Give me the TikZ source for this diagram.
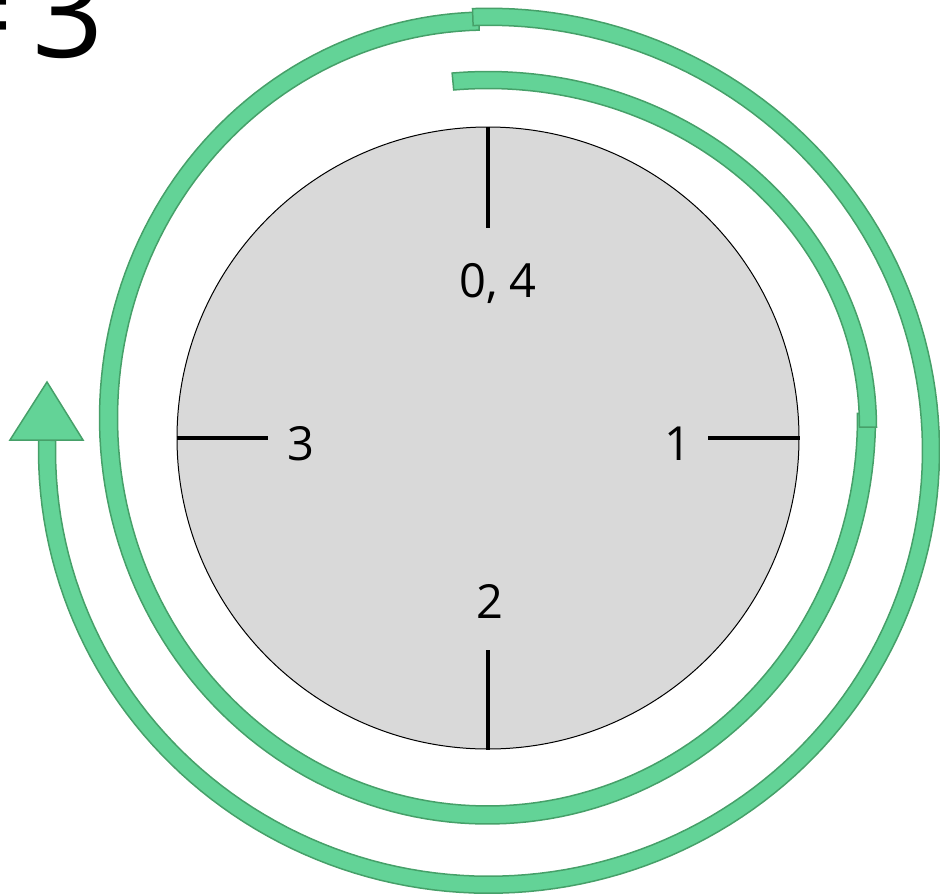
\documentclass[tikz,border=0pt]{standalone}
\usepackage{fontspec}
\setmainfont{Open Sans}
\definecolor{bandfill}{RGB}{99,211,151}
\definecolor{bandedge}{RGB}{70,160,105}
\definecolor{diskfill}{RGB}{217,217,217}
\begin{document}
\begin{tikzpicture}[x=1pt,y=-1pt,
  band/.style={fill=bandfill, draw=bandedge, line width=1.5pt, line join=miter},
  tickline/.style={line width=4pt, black},
  lbl/.style={font=\fontsize{47}{50}\selectfont, inner sep=0pt, anchor=base}]
\useasboundingbox (0,0) rectangle (940,895);
\clip (0,0) rectangle (940,895);
% title
\node[font=\fontsize{125}{135}\selectfont, inner sep=0pt, anchor=base east] (title) at (104,57) {=\kern-14pt\ 3};
% disk
\node[circle, draw=black, line width=1pt, fill=diskfill, minimum size=622pt, inner sep=0pt] (disk) at (488,438) {};
\draw[tickline] (disk.north) -- ++(0,101);
\draw[tickline] (disk.south) -- ++(0,-100);
\draw[tickline] (disk.west) -- ++(91,0);
\draw[tickline] (disk.east) -- ++(-92,0);
\node[lbl] (l04) at (498,297) {0, 4};
\node[lbl] (l3) at (301,460) {3};
\node[lbl] (l1) at (678,460) {1};
\node[lbl] (l2) at (490,618) {2};
% spiral segment 2
\filldraw[band] plot[domain=0.7:-268.7, samples=160] ({487.5+388*cos(\x)},{418-406*sin(\x)})
  -- plot[domain=-268.7:0.7, samples=160] ({487.5+370*cos(\x)},{418-388*sin(\x)}) -- cycle;
% spiral segment 1
\filldraw[band] plot[domain=95.3:0, samples=80] ({488+388.5*cos(\x)},{427-355.5*sin(\x)})
  -- plot[domain=0:95.3, samples=80] ({488+371.5*cos(\x)},{427-338.5*sin(\x)}) -- cycle;
% spiral segment 3
\filldraw[band] plot[domain=92.1:-181.4, samples=160] ({489+450.5*cos(\x)},{450.75-442.5*sin(\x)})
  -- plot[domain=-181.4:92.1, samples=160] ({489+433.5*cos(\x)},{450.75-425.5*sin(\x)}) -- cycle;
% arrowhead
\filldraw[band] (47,382) -- (83,440) -- (10,440) -- cycle;
\end{tikzpicture}
\end{document}
